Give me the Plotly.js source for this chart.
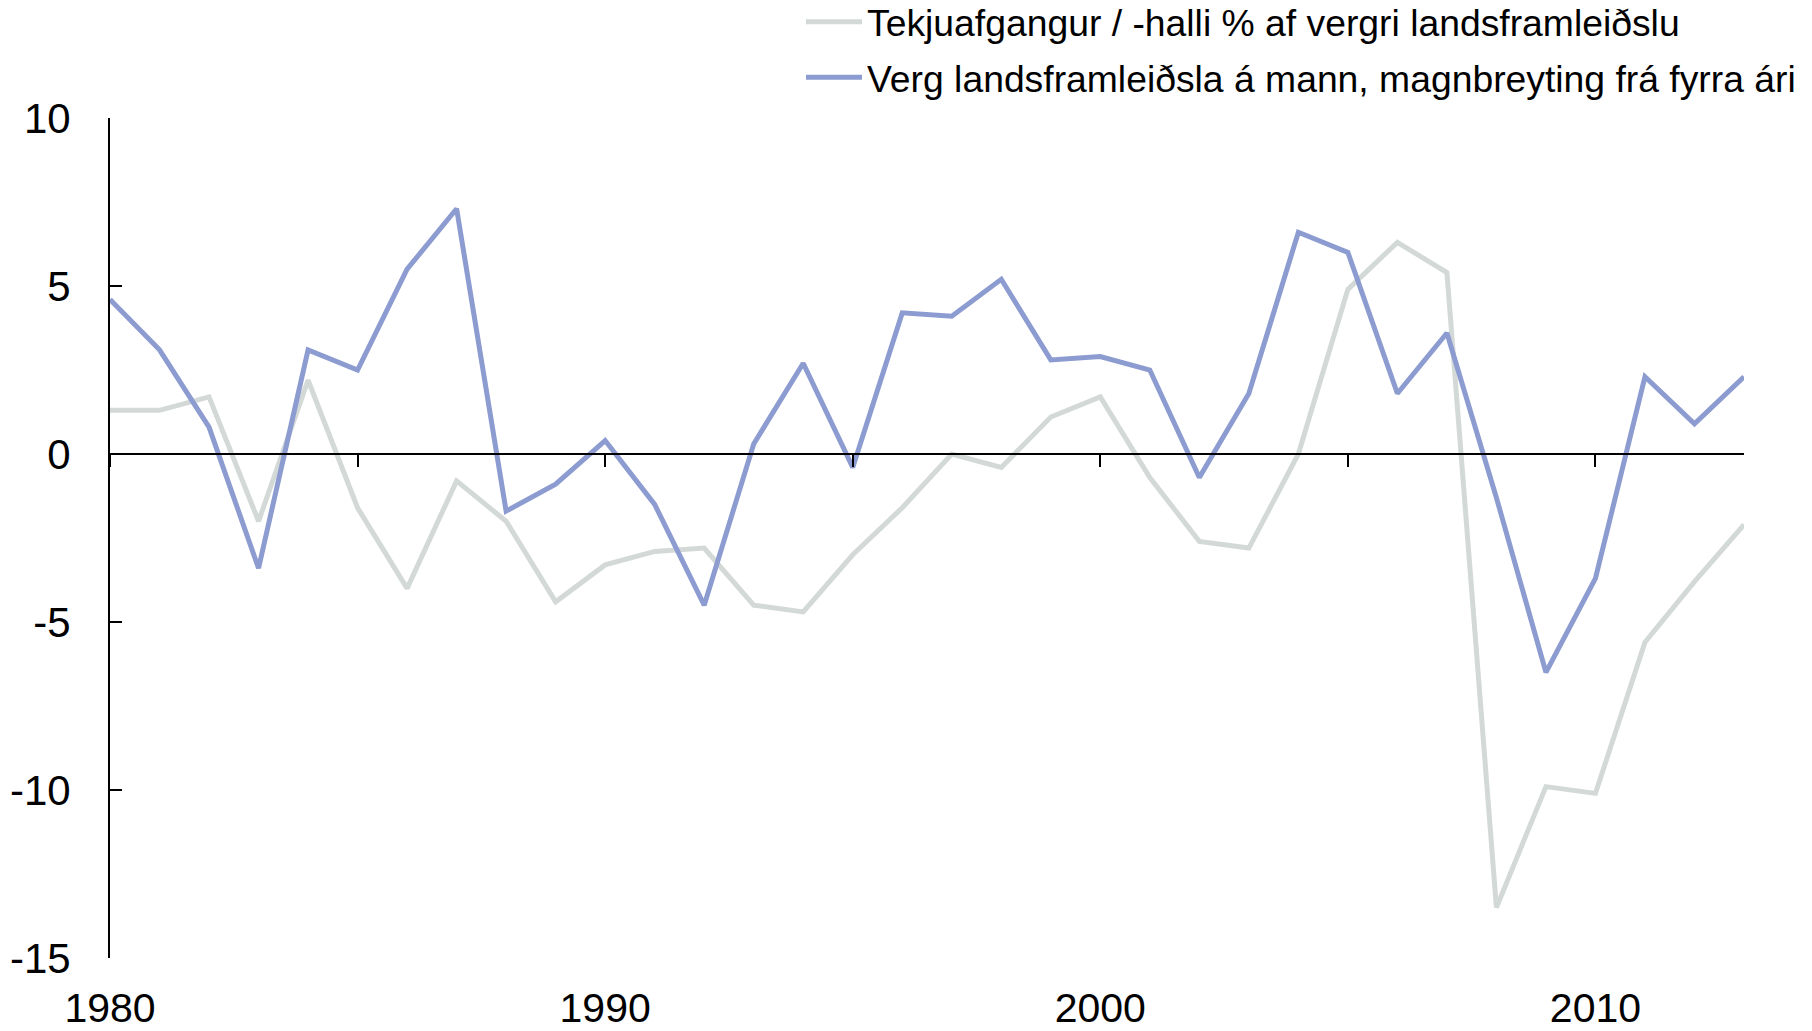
<!DOCTYPE html>
<html>
<head>
<meta charset="utf-8">
<script src="https://cdn.plot.ly/plotly-3.0.1.min.js"></script>
<style>
html,body{margin:0;padding:0;background:#fff;}
#chart{width:1812px;height:1031px;}
</style>
</head>
<body>
<div id="chart"></div>
<script>
const years = [1980,1981,1982,1983,1984,1985,1986,1987,1988,1989,1990,1991,1992,1993,1994,1995,1996,1997,1998,1999,2000,2001,2002,2003,2004,2005,2006,2007,2008,2009,2010,2011,2012,2013];
const balance = [1.3,1.3,1.7,-2.0,2.2,-1.6,-4.0,-0.8,-2.0,-4.4,-3.3,-2.9,-2.8,-4.5,-4.7,-3.0,-1.6,0.0,-0.4,1.1,1.7,-0.7,-2.6,-2.8,0.0,4.9,6.3,5.4,-13.5,-9.9,-10.1,-5.6,-3.8,-2.1];
const gdpGrowth = [4.6,3.1,0.8,-3.4,3.1,2.5,5.5,7.3,-1.7,-0.9,0.4,-1.5,-4.5,0.3,2.7,-0.4,4.2,4.1,5.2,2.8,2.9,2.5,-0.7,1.8,6.6,6.0,1.8,3.6,-1.3,-6.5,-3.7,2.3,0.9,2.3];
const seriesNames = ["Tekjuafgangur / -halli % af vergri landsframleiðslu","Verg landsframleiðsla á mann, magnbreyting frá fyrra ári"];
const yTickVals = [-15,-10,-5,0,5,10];
const yTickText = ["-15","-10","-5","0","5","10"];
const xTickVals = [1980,1990,2000,2010];

const FONT = '"Liberation Sans", Arial, sans-serif';

const traces = [
  {x: years, y: balance, name: seriesNames[0], type: 'scatter', mode: 'lines',
   line: {color: '#D3D9D7', width: 5}, legendgroup: 'a', xaxis: 'x', yaxis: 'y'},
  {x: years, y: gdpGrowth, name: seriesNames[1], type: 'scatter', mode: 'lines',
   line: {color: '#8C9BD0', width: 5}, legendgroup: 'b', xaxis: 'x', yaxis: 'y'}
];

const layout = {
  width: 1812, height: 1031,
  paper_bgcolor: '#ffffff', plot_bgcolor: '#ffffff',
  margin: {l: 110, r: 68, t: 118, b: 73, pad: 0, autoexpand: false},
  font: {family: FONT, size: 36, color: '#000'},
  showlegend: true,
  legend: {
    x: 0.4229, y: 1.1512, xanchor: 'left', yanchor: 'top',
    bgcolor: 'rgba(0,0,0,0)', borderwidth: 0,
    font: {family: FONT, size: 37.3, color: '#000'},
    traceorder: 'grouped', tracegroupgap: 4, itemwidth: 56
  },
  xaxis: {
    range: [1980, 2013], showgrid: false, zeroline: false, showline: false,
    tickmode: 'array', tickvals: xTickVals, ticks: '', ticklabelstandoff: 22,
    tickfont: {family: FONT, size: 41, color: '#000'}, fixedrange: true
  },
  xaxis2: {
    overlaying: 'x', anchor: 'free', position: 0.6, side: 'bottom',
    range: [1980, 2013], showgrid: false, zeroline: false,
    showline: true, linecolor: '#000', linewidth: 2,
    ticks: 'outside', ticklen: 12, tickwidth: 2, tickcolor: '#000',
    tick0: 1980, dtick: 5, showticklabels: false
  },
  yaxis: {
    range: [-15, 10], showgrid: false, zeroline: false,
    showline: true, linecolor: '#000', linewidth: 2,
    ticks: 'inside', ticklen: 12, tickwidth: 2, tickcolor: '#000',
    tickmode: 'array', tickvals: yTickVals, ticktext: yTickText,
    ticklabelstandoff: 29,
    tickfont: {family: FONT, size: 42, color: '#000'}, fixedrange: true
  }
};

// invisible helper trace so the zero-line axis (xaxis2) is drawn
traces.push({x: [1980], y: [0], xaxis: 'x2', yaxis: 'y', mode: 'markers',
  marker: {opacity: 0}, showlegend: false, hoverinfo: 'skip'});

Plotly.newPlot('chart', traces, layout, {displayModeBar: false, staticPlot: true});
</script>
</body>
</html>
